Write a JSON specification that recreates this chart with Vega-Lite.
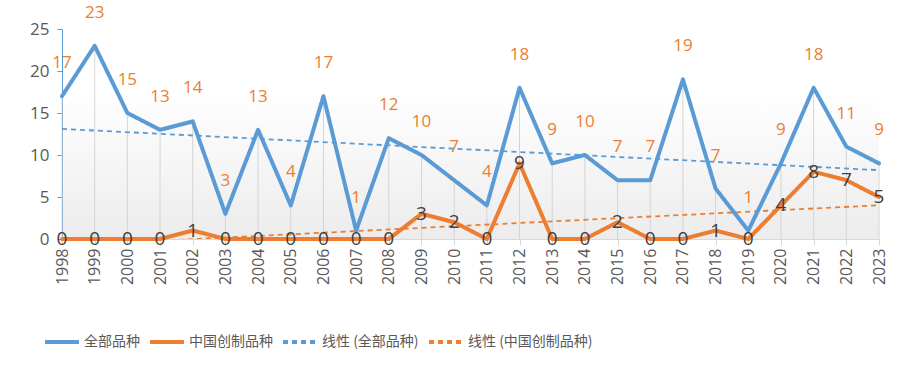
{
  "$schema": "https://vega.github.io/schema/vega-lite/v6.json",
  "width": 817,
  "height": 210,
  "autosize": {"type": "none"},
  "padding": {"left": 62, "top": 29, "right": 24, "bottom": 132},
  "background": "white",
  "config": {
    "view": {"stroke": null, "fill": {"gradient": "linear", "x1": 0, "y1": 0, "x2": 0, "y2": 1, "stops": [{"offset": 0, "color": "#ffffff"}, {"offset": 0.3, "color": "#ffffff"}, {"offset": 1, "color": "#ececec"}]}},
    "font": "Open Sans"
  },
  "data": {
    "values": [
      {"year": 1998, "series": "全部品种", "trend": "线性 (全部品种)", "value": 17, "label": "17"},
      {"year": 1999, "series": "全部品种", "trend": "线性 (全部品种)", "value": 23, "label": "23"},
      {"year": 2000, "series": "全部品种", "trend": "线性 (全部品种)", "value": 15, "label": "15"},
      {"year": 2001, "series": "全部品种", "trend": "线性 (全部品种)", "value": 13, "label": "13"},
      {"year": 2002, "series": "全部品种", "trend": "线性 (全部品种)", "value": 14, "label": "14"},
      {"year": 2003, "series": "全部品种", "trend": "线性 (全部品种)", "value": 3, "label": "3"},
      {"year": 2004, "series": "全部品种", "trend": "线性 (全部品种)", "value": 13, "label": "13"},
      {"year": 2005, "series": "全部品种", "trend": "线性 (全部品种)", "value": 4, "label": "4"},
      {"year": 2006, "series": "全部品种", "trend": "线性 (全部品种)", "value": 17, "label": "17"},
      {"year": 2007, "series": "全部品种", "trend": "线性 (全部品种)", "value": 1, "label": "1"},
      {"year": 2008, "series": "全部品种", "trend": "线性 (全部品种)", "value": 12, "label": "12"},
      {"year": 2009, "series": "全部品种", "trend": "线性 (全部品种)", "value": 10, "label": "10"},
      {"year": 2010, "series": "全部品种", "trend": "线性 (全部品种)", "value": 7, "label": "7"},
      {"year": 2011, "series": "全部品种", "trend": "线性 (全部品种)", "value": 4, "label": "4"},
      {"year": 2012, "series": "全部品种", "trend": "线性 (全部品种)", "value": 18, "label": "18"},
      {"year": 2013, "series": "全部品种", "trend": "线性 (全部品种)", "value": 9, "label": "9"},
      {"year": 2014, "series": "全部品种", "trend": "线性 (全部品种)", "value": 10, "label": "10"},
      {"year": 2015, "series": "全部品种", "trend": "线性 (全部品种)", "value": 7, "label": "7"},
      {"year": 2016, "series": "全部品种", "trend": "线性 (全部品种)", "value": 7, "label": "7"},
      {"year": 2017, "series": "全部品种", "trend": "线性 (全部品种)", "value": 19, "label": "19"},
      {"year": 2018, "series": "全部品种", "trend": "线性 (全部品种)", "value": 6, "label": "7"},
      {"year": 2019, "series": "全部品种", "trend": "线性 (全部品种)", "value": 1, "label": "1"},
      {"year": 2020, "series": "全部品种", "trend": "线性 (全部品种)", "value": 9, "label": "9"},
      {"year": 2021, "series": "全部品种", "trend": "线性 (全部品种)", "value": 18, "label": "18"},
      {"year": 2022, "series": "全部品种", "trend": "线性 (全部品种)", "value": 11, "label": "11"},
      {"year": 2023, "series": "全部品种", "trend": "线性 (全部品种)", "value": 9, "label": "9"},
      {"year": 1998, "series": "中国创制品种", "trend": "线性 (中国创制品种)", "value": 0, "label": "0"},
      {"year": 1999, "series": "中国创制品种", "trend": "线性 (中国创制品种)", "value": 0, "label": "0"},
      {"year": 2000, "series": "中国创制品种", "trend": "线性 (中国创制品种)", "value": 0, "label": "0"},
      {"year": 2001, "series": "中国创制品种", "trend": "线性 (中国创制品种)", "value": 0, "label": "0"},
      {"year": 2002, "series": "中国创制品种", "trend": "线性 (中国创制品种)", "value": 1, "label": "1"},
      {"year": 2003, "series": "中国创制品种", "trend": "线性 (中国创制品种)", "value": 0, "label": "0"},
      {"year": 2004, "series": "中国创制品种", "trend": "线性 (中国创制品种)", "value": 0, "label": "0"},
      {"year": 2005, "series": "中国创制品种", "trend": "线性 (中国创制品种)", "value": 0, "label": "0"},
      {"year": 2006, "series": "中国创制品种", "trend": "线性 (中国创制品种)", "value": 0, "label": "0"},
      {"year": 2007, "series": "中国创制品种", "trend": "线性 (中国创制品种)", "value": 0, "label": "0"},
      {"year": 2008, "series": "中国创制品种", "trend": "线性 (中国创制品种)", "value": 0, "label": "0"},
      {"year": 2009, "series": "中国创制品种", "trend": "线性 (中国创制品种)", "value": 3, "label": "3"},
      {"year": 2010, "series": "中国创制品种", "trend": "线性 (中国创制品种)", "value": 2, "label": "2"},
      {"year": 2011, "series": "中国创制品种", "trend": "线性 (中国创制品种)", "value": 0, "label": "0"},
      {"year": 2012, "series": "中国创制品种", "trend": "线性 (中国创制品种)", "value": 9, "label": "9"},
      {"year": 2013, "series": "中国创制品种", "trend": "线性 (中国创制品种)", "value": 0, "label": "0"},
      {"year": 2014, "series": "中国创制品种", "trend": "线性 (中国创制品种)", "value": 0, "label": "0"},
      {"year": 2015, "series": "中国创制品种", "trend": "线性 (中国创制品种)", "value": 2, "label": "2"},
      {"year": 2016, "series": "中国创制品种", "trend": "线性 (中国创制品种)", "value": 0, "label": "0"},
      {"year": 2017, "series": "中国创制品种", "trend": "线性 (中国创制品种)", "value": 0, "label": "0"},
      {"year": 2018, "series": "中国创制品种", "trend": "线性 (中国创制品种)", "value": 1, "label": "1"},
      {"year": 2019, "series": "中国创制品种", "trend": "线性 (中国创制品种)", "value": 0, "label": "0"},
      {"year": 2020, "series": "中国创制品种", "trend": "线性 (中国创制品种)", "value": 4, "label": "4"},
      {"year": 2021, "series": "中国创制品种", "trend": "线性 (中国创制品种)", "value": 8, "label": "8"},
      {"year": 2022, "series": "中国创制品种", "trend": "线性 (中国创制品种)", "value": 7, "label": "7"},
      {"year": 2023, "series": "中国创制品种", "trend": "线性 (中国创制品种)", "value": 5, "label": "5"}
    ]
  },
  "encoding": {
    "x": {
      "field": "year", "type": "quantitative",
      "scale": {"domain": [1998, 2023], "nice": false, "zero": false},
      "axis": {
        "title": null, "values": [1998,1999,2000,2001,2002,2003,2004,2005,2006,2007,2008,2009,2010,2011,2012,2013,2014,2015,2016,2017,2018,2019,2020,2021,2022,2023],
        "format": "d", "labelAngle": -90, "labelAlign": "right", "labelBaseline": "middle",
        "labelFontSize": 16, "labelColor": "#595959", "labelPadding": 3,
        "domainColor": "#d9d9d9", "tickColor": "#d9d9d9", "tickSize": 6, "grid": false, "labelFlush": false, "labelOverlap": false
      }
    },
    "y": {
      "field": "value", "type": "quantitative",
      "scale": {"domain": [0, 25], "nice": false},
      "axis": {
        "title": null, "values": [0,5,10,15,20,25], "grid": false,
        "labelFontSize": 17, "labelColor": "#595959", "labelPadding": 8,
        "domainColor": "#5b9bd5", "tickColor": "#5b9bd5", "tickSize": 5, "labelFlush": false
      }
    }
  },
  "layer": [
    {
      "transform": [{"filter": "datum.series === '全部品种'"}],
      "mark": {"type": "rule", "color": "#d4d4d4", "strokeWidth": 1},
      "encoding": {"y2": {"datum": 0}}
    },
    {
      "transform": [{"regression": "value", "on": "year", "groupby": ["trend"], "method": "linear", "extent": [1998, 2023]}],
      "mark": {"type": "line", "strokeWidth": 1.8, "strokeDash": [5, 4], "clip": true},
      "encoding": {
        "color": {"field": "trend", "type": "nominal"}
      }
    },
    {
      "mark": {"type": "line", "strokeJoin": "round", "strokeCap": "round"},
      "encoding": {
        "color": {
          "field": "series", "type": "nominal",
          "scale": {"domain": ["全部品种", "中国创制品种", "线性 (全部品种)", "线性 (中国创制品种)"], "range": ["#5b9bd5", "#ed7d31", "#5b9bd5", "#ed7d31"]},
          "legend": {
            "title": null, "orient": "none", "direction": "horizontal", "legendX": -19, "legendY": 294,
            "symbolType": "stroke", "symbolSize": 1150, "labelFont": "Noto Sans CJK SC", "labelFontSize": 14,
            "labelColor": "#595959", "labelOffset": 3, "columnPadding": 2, "symbolOpacity": 1
          }
        },
        "strokeDash": {
          "field": "series", "type": "nominal",
          "scale": {"domain": ["全部品种", "中国创制品种", "线性 (全部品种)", "线性 (中国创制品种)"], "range": [[1, 0], [1, 0], [5, 4], [5, 4]]}
        },
        "strokeWidth": {
          "field": "series", "type": "nominal",
          "scale": {"domain": ["全部品种", "中国创制品种", "线性 (全部品种)", "线性 (中国创制品种)"], "range": [4, 4, 2, 2]}
        },
        "detail": {"field": "series"}
      }
    },
    {
      "transform": [{"filter": "datum.series === '全部品种'"}],
      "mark": {"type": "text", "color": "#ed7d31", "fontSize": 17, "dy": -33, "baseline": "middle"},
      "encoding": {"text": {"field": "label"}}
    },
    {
      "transform": [{"filter": "datum.series === '中国创制品种'"}],
      "mark": {"type": "text", "color": "#404040", "fontSize": 19, "baseline": "middle"},
      "encoding": {"text": {"field": "label"}}
    }
  ]
}
